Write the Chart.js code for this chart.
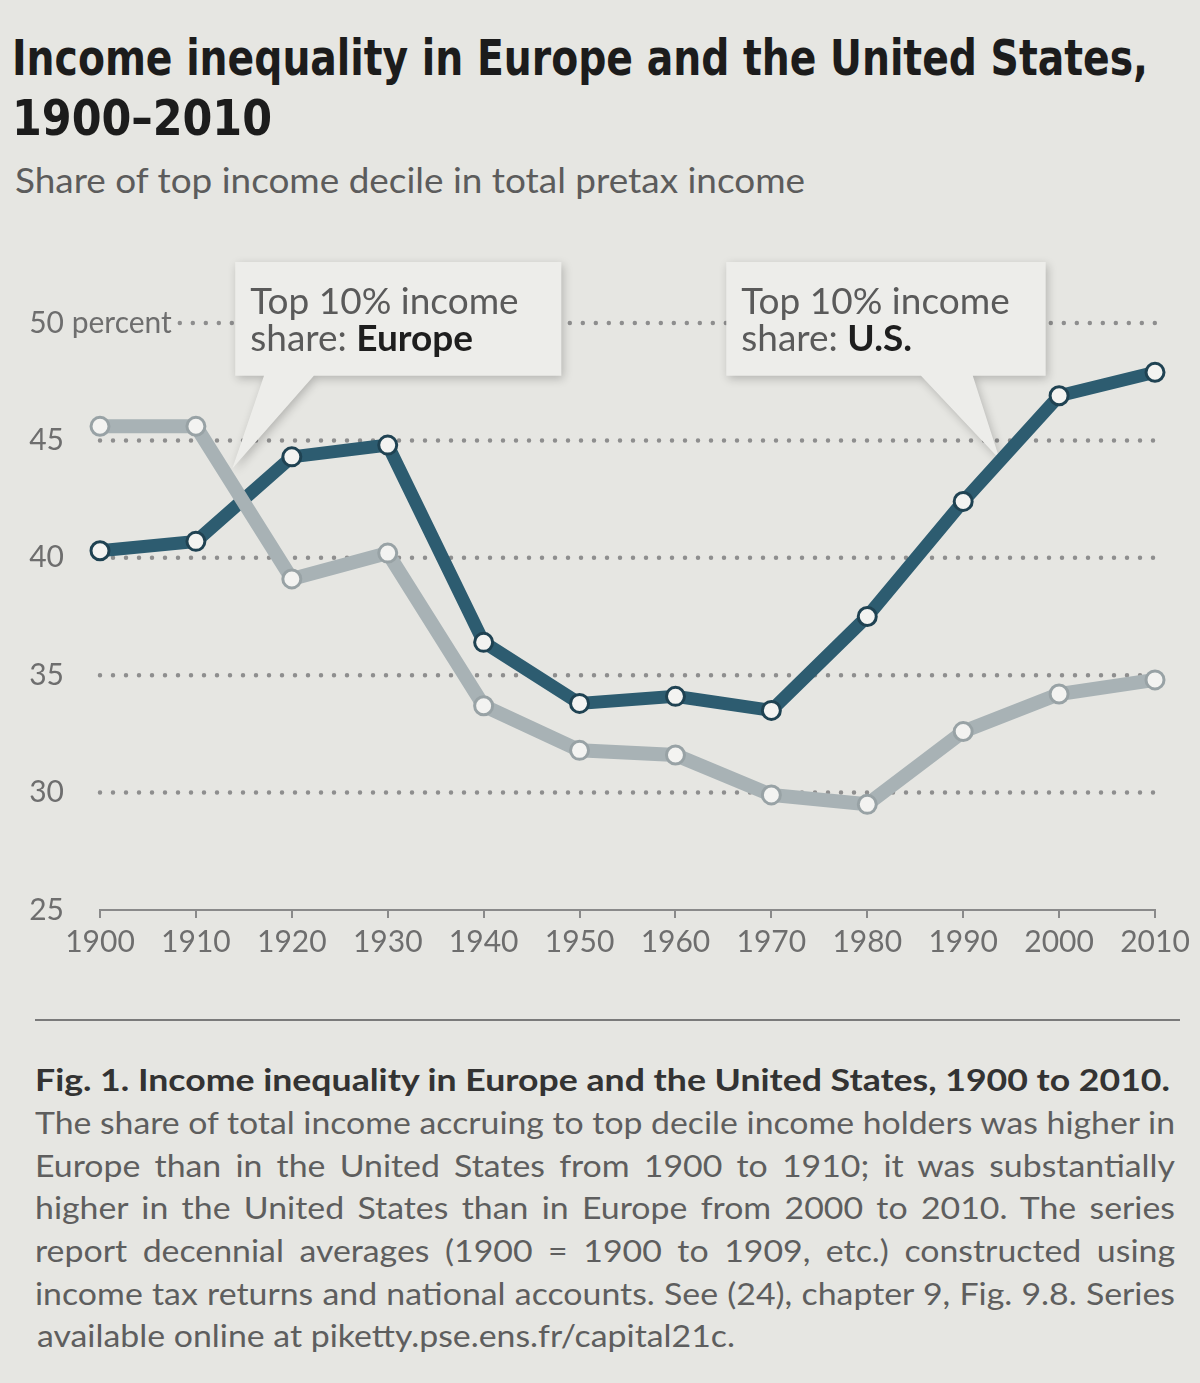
<!DOCTYPE html>
<html lang="en">
<head>
<meta charset="UTF-8">
<title>Income inequality in Europe and the United States, 1900–2010</title>
<script src="https://cdn.jsdelivr.net/npm/chart.js"></script>
<style>
    html, body { margin: 0; padding: 0; }
    body { width: 1200px; height: 1383px; background: #e6e6e2; position: relative; overflow: hidden; font-family: Lato, "Open Sans", sans-serif; }
    .fit { position: absolute; white-space: nowrap; transform-origin: 0 0; }
    .title { font-family: "DejaVu Sans Condensed", "DejaVu Sans", sans-serif; font-stretch: condensed; font-weight: bold; font-size: 50px; line-height: 50px; color: #1c1c1c; }
    .subtitle { font-size: 35px; line-height: 35px; color: #5c5c5c; }
    .cap { font-size: 30px; line-height: 30px; color: #5e5e5e; }
    .cap b { color: #333; }
    #chartBox { position: absolute; left: 0; top: 220px; width: 1200px; height: 760px; }
    #rule { position: absolute; left: 35px; top: 1019px; width: 1145px; height: 2px; background: #7a7a7a; }
</style>
</head>
<body>
    <div class="fit title" style="left:12px; top:33px" data-w="1136">Income inequality in Europe and the United States,</div>
    <div class="fit title" style="left:12px; top:93px" data-w="260">1900–2010</div>
    <div class="fit subtitle" style="left:15px; top:162px" data-w="790">Share of top income decile in total pretax income</div>

    <div id="chartBox"><canvas id="inequalityChart" width="1200" height="760"></canvas></div>

    <div id="rule"></div>

    <div class="fit cap" style="left:35px; top:1064px" data-w="1135"><b>Fig. 1. Income inequality in Europe and the United States, 1900 to 2010.</b></div>
    <div class="cap-body">
        <div class="fit cap" style="left:35px; top:1107px" data-w="1140" data-justify="1">The share of total income accruing to top decile income holders was higher in</div>
        <div class="fit cap" style="left:35px; top:1150px" data-w="1140" data-justify="1">Europe than in the United States from 1900 to 1910; it was substantially</div>
        <div class="fit cap" style="left:35px; top:1192px" data-w="1140" data-justify="1">higher in the United States than in Europe from 2000 to 2010. The series</div>
        <div class="fit cap" style="left:35px; top:1235px" data-w="1140" data-justify="1">report decennial averages (1900 = 1900 to 1909, etc.) constructed using</div>
        <div class="fit cap" style="left:35px; top:1278px" data-w="1140" data-justify="1">income tax returns and national accounts. See (24), chapter 9, Fig. 9.8. Series</div>
        <div class="fit cap" id="lastLine" style="left:37px; top:1320px" data-w="698">available online at piketty.pse.ens.fr/capital21c.</div>
    </div>

<script>
// decennial averages
const years = [1900, 1910, 1920, 1930, 1940, 1950, 1960, 1970, 1980, 1990, 2000, 2010];
const usShare = [40.3, 40.7, 44.3, 44.8, 36.4, 33.8, 34.1, 33.5, 37.5, 42.4, 46.9, 47.9];
const europeShare = [45.6, 45.6, 39.1, 40.2, 33.7, 31.8, 31.6, 29.9, 29.5, 32.6, 34.2, 34.8];
const yTickValues = [25, 30, 35, 40, 45, 50];

// callout boxes, in data units (year, percent)
const callouts = [
    { name: 'Europe', box: [1914.1, 52.6, 1948.1, 47.75], base: [1917.1, 1922.3], tip: [1913.8, 43.8] },
    { name: 'U.S.',   box: [1965.3, 52.6, 1998.6, 47.75], base: [1985.6, 1991.0], tip: [1993.8, 44.2] }
];

const LABEL_FONT = '30px Lato';
const LABEL_COLOR = '#6e6e6e';

const backdropPlugin = {
    id: 'backdrop',
    beforeDatasetsDraw(chart) {
        const { ctx, chartArea, scales: { x, y } } = chart;
        ctx.save();

        // y labels + dotted grid
        ctx.font = LABEL_FONT;
        ctx.fillStyle = LABEL_COLOR;
        ctx.textBaseline = 'middle';
        yTickValues.forEach(v => {
            const py = y.getPixelForValue(v);
            ctx.textAlign = 'right';
            ctx.fillText(String(v), 64, py);
            let start = chartArea.left;
            if (v === y.max) {
                ctx.textAlign = 'left';
                ctx.fillText(' percent', 64, py);
                start = 64 + ctx.measureText(' percent').width + 8;
            }
            if (v > y.min) {
                ctx.beginPath();
                ctx.setLineDash([0, 13]);
                ctx.lineCap = 'round';
                ctx.lineWidth = 4.5;
                ctx.strokeStyle = '#8e8e8e';
                ctx.moveTo(start, py);
                ctx.lineTo(chartArea.right, py);
                ctx.stroke();
            }
        });
        ctx.setLineDash([]);

        // callouts
        callouts.forEach(c => {
            const l = x.getPixelForValue(c.box[0]), t = y.getPixelForValue(c.box[1]);
            const r = x.getPixelForValue(c.box[2]), b = y.getPixelForValue(c.box[3]);
            ctx.save();
            ctx.shadowColor = 'rgba(0,0,0,0.22)';
            ctx.shadowBlur = 10;
            ctx.shadowOffsetX = 2;
            ctx.shadowOffsetY = 3;
            ctx.fillStyle = '#ededea';
            ctx.beginPath();
            ctx.moveTo(l, t);
            ctx.lineTo(r, t);
            ctx.lineTo(r, b);
            ctx.lineTo(x.getPixelForValue(c.base[1]), b);
            ctx.lineTo(x.getPixelForValue(c.tip[0]), y.getPixelForValue(c.tip[1]));
            ctx.lineTo(x.getPixelForValue(c.base[0]), b);
            ctx.lineTo(l, b);
            ctx.closePath();
            ctx.fill();
            ctx.restore();

            ctx.textAlign = 'left';
            ctx.textBaseline = 'alphabetic';
            ctx.font = '37px Lato';
            ctx.fillStyle = '#5a5a5a';
            ctx.fillText('Top 10% income', l + 15, t + 52);
            ctx.fillText('share: ', l + 15, t + 89);
            const w = ctx.measureText('share: ').width;
            ctx.font = 'bold 37px Lato';
            ctx.fillStyle = '#1e1e1e';
            ctx.fillText(c.name, l + 15 + w, t + 89);
        });

        ctx.restore();
    }
};

function series(values) {
    return years.map((yr, i) => ({ x: yr, y: values[i] }));
}

new Chart(document.getElementById('inequalityChart'), {
    type: 'line',
    data: {
        datasets: [
            {
                label: 'Top 10% income share: Europe',
                data: series(europeShare),
                borderColor: '#a8b2b5',
                borderWidth: 14,
                pointRadius: 9,
                pointBorderWidth: 3,
                pointBackgroundColor: '#f3f3f1',
                pointBorderColor: '#98a2a5',
                clip: false
            },
            {
                label: 'Top 10% income share: U.S.',
                data: series(usShare),
                borderColor: '#2d5c70',
                borderWidth: 13,
                pointRadius: 9,
                pointBorderWidth: 3,
                pointBackgroundColor: '#f3f3f1',
                pointBorderColor: '#1f4252',
                clip: false
            }
        ]
    },
    options: {
        responsive: false,
        animation: false,
        layout: { padding: { top: 103, right: 45, bottom: 0, left: 0 } },
        plugins: { legend: { display: false }, tooltip: { enabled: false } },
        scales: {
            x: {
                type: 'linear',
                min: 1900,
                max: 2010,
                ticks: {
                    stepSize: 10,
                    maxRotation: 0,
                    autoSkip: false,
                    padding: 6,
                    color: LABEL_COLOR,
                    font: { family: 'Lato', size: 30 },
                    callback: v => String(v)
                },
                grid: { display: true, drawOnChartArea: false, drawTicks: true, tickLength: 8, color: '#8a8a8a', lineWidth: 2 },
                border: { display: true, color: '#8a8a8a', width: 2 },
                afterFit: scale => { scale.height = 70; }
            },
            y: {
                min: 25,
                max: 50,
                ticks: { display: false },
                grid: { display: false },
                border: { display: false },
                afterFit: scale => { scale.width = 100; }
            }
        }
    },
    plugins: [backdropPlugin]
});

// stretch / squeeze text lines to the widths in the print
function fitLines() {
    // the ragged last caption line sets the glyph stretch for the whole paragraph
    const last = document.getElementById('lastLine');
    const bodyScale = +last.dataset.w / last.getBoundingClientRect().width;

    document.querySelectorAll('.fit').forEach(el => {
        const target = +el.dataset.w;
        const w = el.getBoundingClientRect().width;
        if (el.dataset.justify) {
            const gaps = (el.textContent.match(/ /g) || []).length;
            let s = bodyScale;
            if (w * s > target) s = target / w;
            el.style.transform = 'scaleX(' + s + ')';
            if (gaps && w * s < target) el.style.wordSpacing = ((target / s - w) / gaps) + 'px';
        } else {
            el.style.transform = 'scaleX(' + (target / w) + ')';
        }
    });
}
document.fonts.ready.then(fitLines);
</script>
</body>
</html>
